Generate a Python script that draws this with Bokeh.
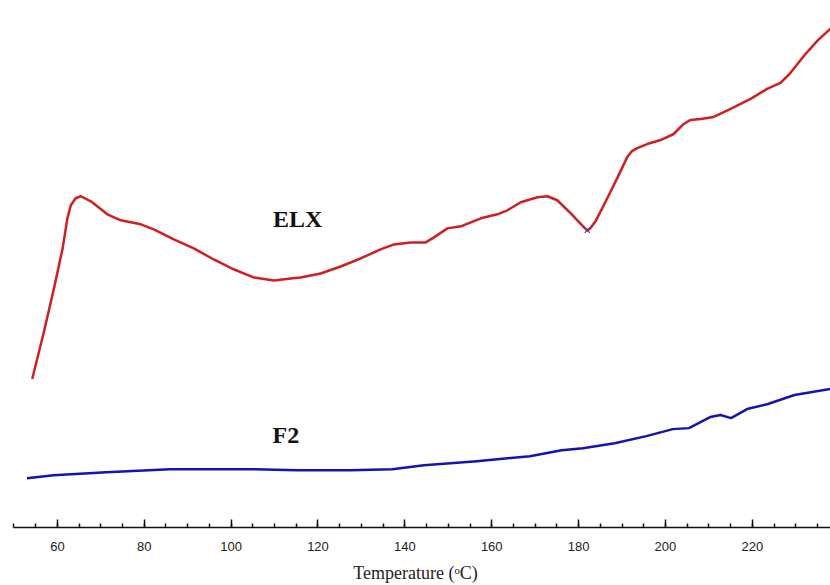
from bokeh.plotting import figure
from bokeh.models import Range1d, FixedTicker, Label
from bokeh.embed import file_html
from bokeh.resources import INLINE

# Temperature (°C) and heat flow (arbitrary units)
elx_temp = [54.2, 56.9, 59.2, 61.2, 62.3, 63.1, 64.2, 65.4, 67.7, 71.5, 74.6, 79.2, 82.2,
            86.8, 91.4, 96.0, 100.7, 105.3, 109.9, 113.7, 116.0, 120.6, 125.2, 129.8,
            134.4, 137.5, 141.3, 144.8, 146.7, 149.8, 152.9, 157.5, 161.3, 163.6, 166.7,
            170.5, 172.8, 175.1, 178.2, 180.6, 181.5, 182.0, 182.7, 183.9, 186.6, 188.9,
            191.2, 192.3, 193.5, 195.8, 198.9, 201.9, 204.2, 205.8, 208.1, 211.1, 215.0,
            219.6, 223.4, 226.5, 228.8, 231.9, 235.0, 238.0]
elx_flow = [14.8, 19.5, 23.8, 27.8, 30.8, 32.1, 32.8, 33.0, 32.5, 31.2, 30.6, 30.2, 29.7,
            28.7, 27.8, 26.7, 25.7, 24.9, 24.6, 24.8, 24.9, 25.3, 26.0, 26.8,
            27.7, 28.2, 28.4, 28.4, 28.9, 29.8, 30.0, 30.8, 31.2, 31.6, 32.4,
            32.9, 33.0, 32.6, 31.3, 30.2, 29.8, 29.6, 29.8, 30.5, 32.8, 34.8,
            36.9, 37.5, 37.8, 38.2, 38.6, 39.2, 40.2, 40.6, 40.7, 40.9, 41.7,
            42.7, 43.7, 44.3, 45.3, 47.0, 48.5, 49.7]

f2_temp = [53.0, 59.1, 71.3, 85.9, 105.4, 115.2, 127.4, 137.1, 144.4, 156.6, 168.8,
           176.1, 181.0, 188.3, 195.6, 201.7, 205.4, 210.3, 212.7, 215.1, 218.8,
           223.6, 229.7, 238.0]
f2_flow = [4.9, 5.2, 5.5, 5.8, 5.8, 5.7, 5.7, 5.8, 6.2, 6.6, 7.1,
           7.7, 7.9, 8.4, 9.1, 9.8, 9.9, 11.0, 11.2, 10.9, 11.8,
           12.3, 13.2, 13.8]

peak_marker_temp = [182.0]
peak_marker_flow = [29.6]

major_ticks = [60, 80, 100, 120, 140, 160, 180, 200, 220]
minor_ticks = list(range(50, 240, 5))

series_labels = ["ELX", "F2"]
label_temp = [115.3, 112.6]
label_flow = [30.7, 9.2]

p = figure(width=830, height=585, output_backend="svg", toolbar_location=None,
           x_range=Range1d(46.9, 238.0), y_range=Range1d(0, 52.5),
           min_border_left=0, min_border_right=0, min_border_top=0, min_border_bottom=0)
p.outline_line_color = None
p.grid.visible = False
p.yaxis.visible = False
p.background_fill_color = "white"
p.border_fill_color = "white"

p.line(elx_temp, elx_flow, line_color="#d01f1f", line_width=2.5, line_join="round")
p.line(f2_temp, f2_flow, line_color="#1414b0", line_width=2.5, line_join="round")
p.scatter(peak_marker_temp, peak_marker_flow, marker="x", size=7,
          line_color="#5040a0", line_width=1.2)

for t, x, y in zip(series_labels, label_temp, label_flow):
    p.add_layout(Label(x=x, y=y, text=t, text_align="center", text_baseline="middle",
                       text_font="Liberation Serif", text_font_style="bold",
                       text_font_size="24px", text_color="#111111"))

ax = p.xaxis[0]
ax.ticker = FixedTicker(ticks=major_ticks, minor_ticks=minor_ticks)
ax.bounds = (50, 238)
ax.axis_line_color = "#111111"
ax.axis_line_width = 1.5
ax.major_tick_in = 8
ax.major_tick_out = 0
ax.minor_tick_in = 4
ax.minor_tick_out = 0
ax.major_tick_line_color = "#111111"
ax.minor_tick_line_color = "#111111"
ax.major_tick_line_width = 1.5
ax.minor_tick_line_width = 1.5
ax.major_label_text_font = "Liberation Sans"
ax.major_label_text_font_size = "13px"
ax.major_label_text_color = "#222222"
ax.major_label_standoff = 14
ax.axis_label = "Temperature (ᵒC)"
ax.axis_label_text_font = "Liberation Serif"
ax.axis_label_text_font_style = "normal"
ax.axis_label_text_font_size = "18px"
ax.axis_label_text_color = "#222222"
ax.axis_label_standoff = 9

open("out.html", "w").write(file_html(p, INLINE))
